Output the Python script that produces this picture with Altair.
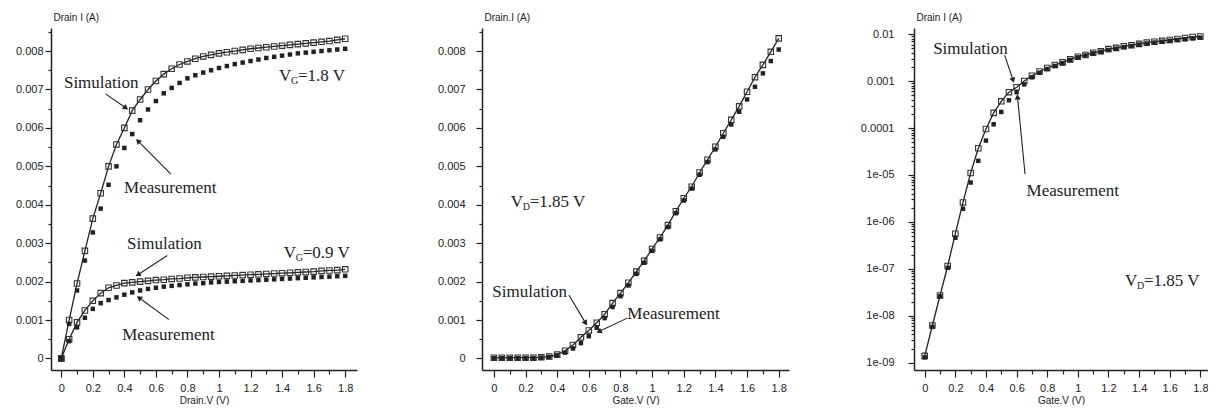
import math
import altair as alt
import pandas as pd

# ---------------- data ----------------
X = [0, 0.05, 0.1, 0.15, 0.2, 0.25, 0.3, 0.35, 0.4, 0.45, 0.5, 0.55, 0.6, 0.65,
     0.7, 0.75, 0.8, 0.85, 0.9, 0.95, 1.0, 1.05, 1.1, 1.15, 1.2, 1.25, 1.3, 1.35,
     1.4, 1.45, 1.5, 1.55, 1.6, 1.65, 1.7, 1.75, 1.8]

# Panel 1: output characteristics (Drain I vs Drain V)
P1_SIM_VG18 = [0, 0.001, 0.00195, 0.0028, 0.00364, 0.0043, 0.005, 0.00557, 0.006, 0.00645,
               0.00674, 0.007, 0.00722, 0.0074, 0.00754, 0.00765, 0.00773, 0.0078, 0.00786,
               0.0079, 0.00794, 0.00797, 0.008, 0.00803, 0.00806, 0.00808, 0.0081, 0.00812,
               0.00814, 0.00816, 0.00818, 0.0082, 0.00822, 0.00824, 0.00826, 0.00829, 0.00832]
P1_MEAS_VG18 = [0, 0.0009, 0.00177, 0.00255, 0.00328, 0.0039, 0.00452, 0.005, 0.00548, 0.00584,
                0.0062, 0.00648, 0.0067, 0.0069, 0.00704, 0.00717, 0.00729, 0.00737, 0.00744,
                0.0075, 0.00756, 0.00761, 0.00766, 0.0077, 0.00774, 0.00778, 0.00782, 0.00785,
                0.00788, 0.00791, 0.00794, 0.00796, 0.00798, 0.008, 0.00802, 0.00804, 0.00806]
P1_SIM_VG09 = [0, 0.0005, 0.00094, 0.00125, 0.0015, 0.0017, 0.00184, 0.0019, 0.00196, 0.00198,
               0.002, 0.00202, 0.00204, 0.00205, 0.00207, 0.00208, 0.0021, 0.00211, 0.00212,
               0.00213, 0.00214, 0.00215, 0.00216, 0.00217, 0.00218, 0.00219, 0.0022, 0.00221,
               0.00222, 0.00223, 0.00224, 0.00225, 0.00226, 0.00228, 0.00229, 0.0023, 0.00232]
P1_MEAS_VG09 = [0, 0.00045, 0.00081, 0.00106, 0.00129, 0.00144, 0.00152, 0.00159, 0.00166, 0.00172,
                0.00177, 0.00181, 0.00184, 0.00187, 0.00189, 0.00191, 0.00193, 0.00195, 0.00196,
                0.00198, 0.00199, 0.002, 0.00201, 0.00202, 0.00203, 0.00204, 0.00205, 0.00206,
                0.00207, 0.00208, 0.00209, 0.0021, 0.00211, 0.00212, 0.00213, 0.00214, 0.00215]

# Panel 2: transfer characteristic, linear
P2_SIM = [0.00002, 0.00002, 0.00002, 0.00002, 0.00002, 0.00002, 0.00003, 0.00005, 0.0001, 0.0002,
          0.00035, 0.00055, 0.00073, 0.00093, 0.00115, 0.00144, 0.0017, 0.00197, 0.00226,
          0.00254, 0.00285, 0.00315, 0.00347, 0.00383, 0.00417, 0.00447, 0.00484, 0.00517,
          0.00551, 0.00586, 0.00621, 0.00656, 0.00694, 0.00732, 0.00764, 0.00798, 0.00833]
P2_MEAS = [0.00001, 0.00001, 0.00001, 0.00001, 0.00001, 0.00001, 0.00002, 0.00004, 0.00008, 0.00015,
           0.00026, 0.0004, 0.00058, 0.0008, 0.00105, 0.00134, 0.00162, 0.0019, 0.0022,
           0.00249, 0.0028, 0.0031, 0.00342, 0.00378, 0.00411, 0.00442, 0.00478, 0.00511,
           0.00544, 0.00577, 0.00609, 0.00642, 0.00674, 0.00707, 0.00742, 0.00774, 0.00804]

# Panel 3: transfer characteristic, log
P3_SIM = [1.4e-9, 6.2e-9, 2.7e-8, 1.15e-7, 5.6e-7, 2.6e-6, 1.1e-5, 3.7e-5, 9.5e-5, 2.1e-4,
          3.7e-4, 5.8e-4, 7.4e-4, 1.0e-3, 1.3e-3, 1.6e-3, 1.9e-3, 2.2e-3, 2.5e-3, 2.9e-3,
          3.3e-3, 3.6e-3, 4.0e-3, 4.3e-3, 4.8e-3, 5.1e-3, 5.5e-3, 5.8e-3, 6.2e-3, 6.6e-3,
          6.9e-3, 7.2e-3, 7.5e-3, 7.9e-3, 8.3e-3, 8.7e-3, 8.9e-3]
P3_MEAS = [1.3e-9, 5.8e-9, 2.6e-8, 1.05e-7, 4.6e-7, 1.9e-6, 6.9e-6, 2.0e-5, 5.4e-5, 1.2e-4,
           2.2e-4, 3.9e-4, 5.8e-4, 8.5e-4, 1.2e-3, 1.5e-3, 1.8e-3, 2.1e-3, 2.4e-3, 2.8e-3,
           3.2e-3, 3.5e-3, 3.9e-3, 4.2e-3, 4.6e-3, 4.9e-3, 5.3e-3, 5.6e-3, 6.0e-3, 6.3e-3,
           6.6e-3, 6.9e-3, 7.2e-3, 7.5e-3, 7.8e-3, 8.1e-3, 8.4e-3]

# axis tick values / labels
X_TICKS = [0, 0.1, 0.2, 0.3, 0.4, 0.5, 0.6, 0.7, 0.8, 0.9, 1.0, 1.1, 1.2, 1.3, 1.4, 1.5,
           1.6, 1.7, 1.8]
Y_LIN_TICKS = [0, 0.0005, 0.001, 0.0015, 0.002, 0.0025, 0.003, 0.0035, 0.004, 0.0045,
               0.005, 0.0055, 0.006, 0.0065, 0.007, 0.0075, 0.008, 0.0085]
LOG_MAJOR = [1e-9, 1e-8, 1e-7, 1e-6, 1e-5, 1e-4, 1e-3, 1e-2]
LOG_MINOR_MULT = [2, 3, 4, 5, 6, 7, 8, 9]

X_TITLES = ["Drain.V (V)", "Gate.V (V)", "Gate.V (V)"]
Y_TITLES = ["Drain I (A)", "Drain.I (A)", "Drain I (A)"]

# annotations (data coordinates)
P1_TEXTS = [("Simulation", 0.017, 0.00717), ("Measurement", 0.398, 0.00444),
            ("Simulation", 0.417, 0.00299), ("Measurement", 0.386, 0.0006)]
P1_VLABELS = [("G", "=1.8 V", 1.38, 0.00735), ("G", "=0.9 V", 1.41, 0.00275)]
P1_ARROWS = [(0.283, 0.00688, 0.41, 0.00652), (0.695, 0.0048, 0.486, 0.00566),
             (0.672, 0.00268, 0.486, 0.00218), (0.683, 0.00101, 0.493, 0.00158)]

P2_TEXTS = [("Simulation", -0.01, 0.00174), ("Measurement", 0.843, 0.00116)]
P2_VLABELS = [("D", "=1.85 V", 0.106, 0.00408)]
P2_ARROWS = [(0.474, 0.00165, 0.58, 0.00092), (0.843, 0.00105, 0.664, 0.0007)]

P3_TEXTS = [("Simulation", 0.055, 4.8e-3), ("Measurement", 0.665, 4.6e-6)]
P3_VLABELS = [("D", "=1.85 V", 1.308, 5.4e-8)]
P3_ARROWS = [(0.522, 3.56e-3, 0.577, 1.04e-3), (0.655, 1.05e-5, 0.606, 4.6e-4)]

# ---------------- styling / geometry ----------------
INK = "#222222"
SANS = "Liberation Sans"
SERIF = "Liberation Serif"
H = 342
YD_LIN = [-0.0003, 0.0086]
YD_LOG = [7e-10, 0.0135]
PANELS_GEOM = [
    dict(w=306, xd=[-0.065, 1.875], labpad=2),
    dict(w=307, xd=[-0.075, 1.865], labpad=11),
    dict(w=294, xd=[-0.07, 1.85], labpad=14),
]


def angle_for(x1, y1, x2, y2, w, xd, yd, ylog):
    def px(x):
        return (x - xd[0]) / (xd[1] - xd[0]) * w

    def py(y):
        if ylog:
            f = (math.log10(y) - math.log10(yd[0])) / (math.log10(yd[1]) - math.log10(yd[0]))
        else:
            f = (y - yd[0]) / (yd[1] - yd[0])
        return H - f * H

    dx = px(x2) - px(x1)
    dy = py(y2) - py(y1)
    a = math.degrees(math.atan2(dx, -dy))
    return a % 360


def build_panel(i, curves, texts, vlabels, arrows, ylog):
    g = PANELS_GEOM[i]
    w, xd = g["w"], g["xd"]
    yd = YD_LOG if ylog else YD_LIN

    x_axis = alt.Axis(
        values=X_TICKS,
        labelExpr="round(datum.value*10) % 2 == 0 ? format(datum.value, '~g') : ''",
        tickSize={"condition": {"test": "round(datum.value*10) % 2 == 0", "value": 7}, "value": 4},
        labelPadding=5, labelOverlap=False, labelFlush=False, labelBound=False,
        title=X_TITLES[i], titlePadding=2, grid=False,
    )
    if ylog:
        yvals = LOG_MAJOR + [m * v for v in LOG_MAJOR[:-1] for m in LOG_MINOR_MULT]
        major_test = "abs(log(datum.value)/LN10 - round(log(datum.value)/LN10)) < 0.01"
        y_axis = alt.Axis(
            values=yvals,
            labelExpr=major_test + " ? (datum.value >= 0.0001 ? format(datum.value, '~g') : '1e-0' + (-round(log(datum.value)/LN10))) : ''",
            tickSize={"condition": {"test": major_test, "value": 6}, "value": 3},
            labelPadding=g["labpad"], labelOverlap=False, labelFlush=False, labelBound=False,
            title=Y_TITLES[i], titleAngle=0, titleAlign="left", titleBaseline="alphabetic",
            titleX=2, titleY=-8, grid=False,
        )
        y_scale = alt.Scale(type="log", domain=yd, nice=False)
    else:
        major_test = "abs(datum.value*1000 - round(datum.value*1000)) < 0.01"
        y_axis = alt.Axis(
            values=Y_LIN_TICKS,
            labelExpr=major_test + " ? format(datum.value, '.3~f') : ''",
            tickSize={"condition": {"test": major_test, "value": 6}, "value": 3},
            labelPadding=g["labpad"], labelOverlap=False, labelFlush=False, labelBound=False,
            title=Y_TITLES[i], titleAngle=0, titleAlign="left", titleBaseline="alphabetic",
            titleX=2, titleY=-8, grid=False,
        )
        y_scale = alt.Scale(domain=yd, nice=False, zero=False)

    x_scale = alt.Scale(domain=xd, nice=False, zero=False)
    X_ENC = alt.X("x:Q", scale=x_scale, axis=x_axis)
    Y_ENC = alt.Y("y:Q", scale=y_scale, axis=y_axis)

    rows = []
    for name, sim, meas in curves:
        for xv, s, m in zip(X, sim, meas):
            rows.append({"curve": name, "x": xv, "y": s, "kind": "sim"})
            rows.append({"curve": name, "x": xv, "y": m, "kind": "meas"})
    df = pd.DataFrame(rows)
    sim_df = df[df.kind == "sim"]
    meas_df = df[df.kind == "meas"]

    line = alt.Chart(sim_df).mark_line(color=INK, strokeWidth=1.3).encode(
        x=X_ENC, y=Y_ENC, detail="curve:N")
    open_sq = alt.Chart(sim_df).mark_point(
        shape="square", filled=False, stroke="#333333", strokeWidth=1.1, size=30, opacity=1
    ).encode(x=X_ENC, y=Y_ENC)
    fill_sq = alt.Chart(meas_df).mark_square(size=20, color=INK, opacity=1).encode(
        x=X_ENC, y=Y_ENC)

    tdf = pd.DataFrame([{"text": t, "x": xv, "y": yv} for t, xv, yv in texts])
    txt = alt.Chart(tdf).mark_text(
        font=SERIF, fontSize=17, align="left", baseline="middle", color=INK
    ).encode(x=X_ENC, y=Y_ENC, text="text:N")

    vdf = pd.DataFrame([{"sub": s, "rest": r, "x": xv, "y": yv, "v": "V"}
                        for s, r, xv, yv in vlabels])
    v_main = alt.Chart(vdf).mark_text(
        font=SERIF, fontSize=17, align="left", baseline="middle", color=INK
    ).encode(x=X_ENC, y=Y_ENC, text="v:N")
    v_sub = alt.Chart(vdf).mark_text(
        font=SERIF, fontSize=10, align="left", baseline="middle", color=INK, dx=12, dy=5
    ).encode(x=X_ENC, y=Y_ENC, text="sub:N")
    v_rest = alt.Chart(vdf).mark_text(
        font=SERIF, fontSize=17, align="left", baseline="middle", color=INK, dx=19
    ).encode(x=X_ENC, y=Y_ENC, text="rest:N")

    adf = pd.DataFrame([{"x": a, "y": b, "x2": c, "y2": d,
                         "angle": angle_for(a, b, c, d, w, xd, yd, ylog)}
                        for a, b, c, d in arrows])
    rules = alt.Chart(adf).mark_rule(color=INK, strokeWidth=1.1).encode(
        x=X_ENC, y=Y_ENC, x2="x2:Q", y2="y2:Q")
    heads = alt.Chart(adf).mark_point(
        shape="triangle-up", filled=True, color=INK, size=38, opacity=1
    ).encode(
        x=alt.X("x2:Q", scale=x_scale, axis=x_axis),
        y=alt.Y("y2:Q", scale=y_scale, axis=y_axis),
        angle=alt.Angle("angle:Q", scale=None),
    )

    return alt.layer(line, open_sq, fill_sq, txt, v_main, v_sub, v_rest, rules, heads).properties(
        width=w, height=H)


p1 = build_panel(0, [("vg18", P1_SIM_VG18, P1_MEAS_VG18), ("vg09", P1_SIM_VG09, P1_MEAS_VG09)],
                 P1_TEXTS, P1_VLABELS, P1_ARROWS, ylog=False)
p2 = build_panel(1, [("vd", P2_SIM, P2_MEAS)], P2_TEXTS, P2_VLABELS, P2_ARROWS, ylog=False)
p3 = build_panel(2, [("vd", P3_SIM, P3_MEAS)], P3_TEXTS, P3_VLABELS, P3_ARROWS, ylog=True)

chart = alt.hconcat(p1, p2, p3, spacing=125, bounds="flush").properties(
    padding={"left": 7, "top": 4, "right": 0, "bottom": 0},
    background="white",
).configure_view(stroke=None).configure_axis(
    domainColor=INK, domainWidth=1.5, tickColor=INK, tickWidth=1.2,
    labelFont=SANS, labelFontSize=11, labelColor=INK,
    titleFont=SANS, titleFontSize=10, titleFontWeight="normal", titleColor=INK,
)

chart.save("out.html", embed_options={"renderer": "svg", "actions": False})
